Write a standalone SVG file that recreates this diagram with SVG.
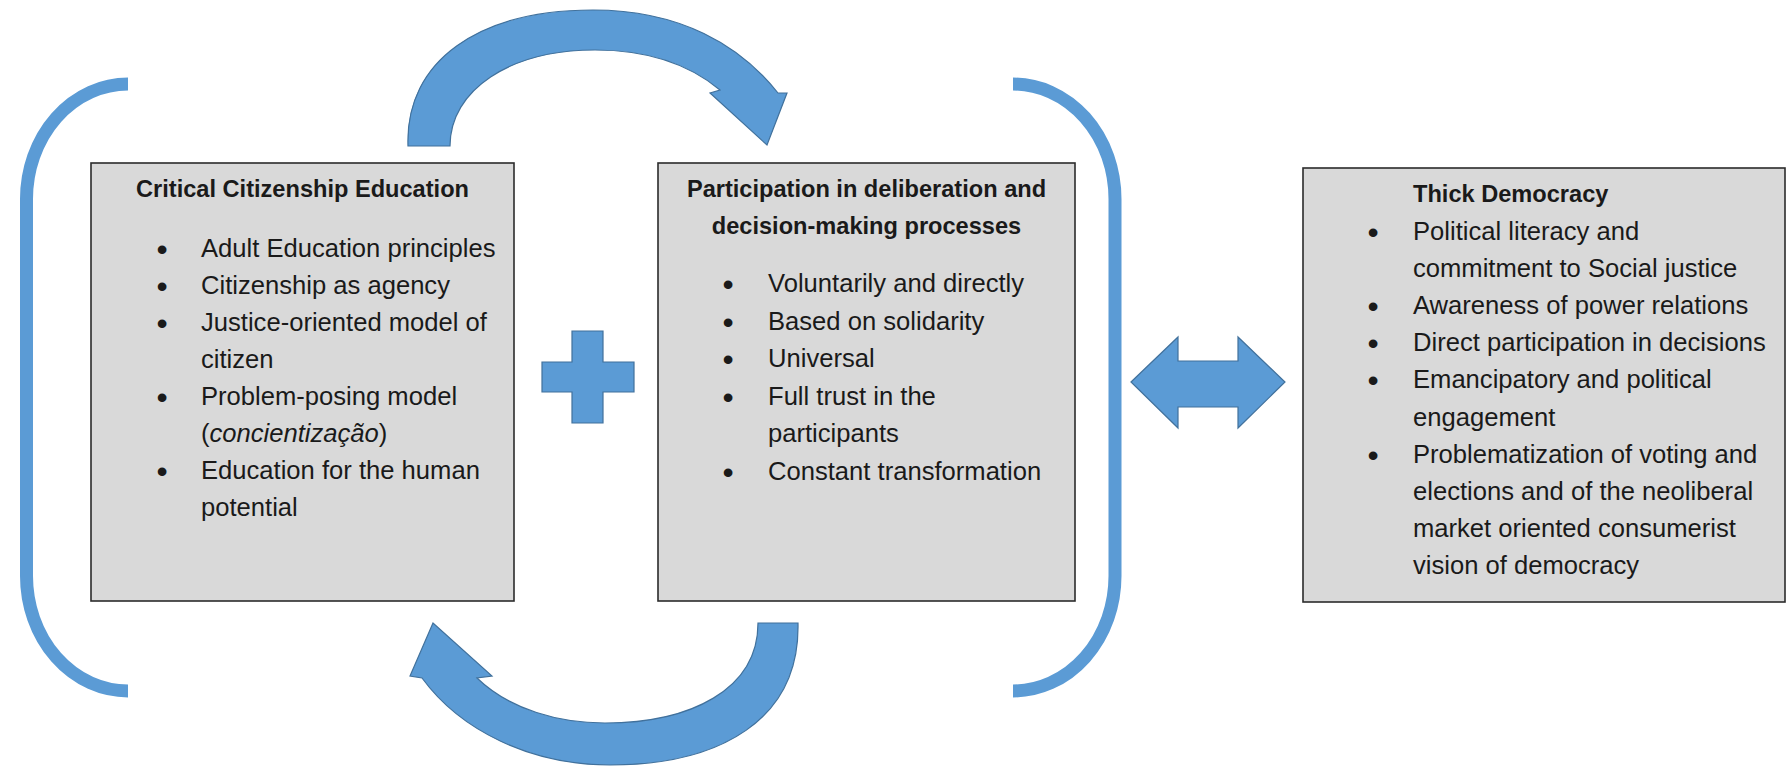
<svg xmlns="http://www.w3.org/2000/svg" width="1787" height="766" viewBox="0 0 1787 766">
<style>
.box{fill:#d9d9d9;stroke:#2b2b2b;stroke-width:1.6}
.t{font-family:"Liberation Sans",Arial,sans-serif;font-size:25.6px;fill:#1a1a1a}
.h{font-family:"Liberation Sans",Arial,sans-serif;font-size:23.6px;font-weight:bold;fill:#1a1a1a}
.b{font-family:"Liberation Sans",Arial,sans-serif;font-size:32px;fill:#1a1a1a;text-anchor:middle}
.shape{fill:#5b9bd5;stroke:#41719c;stroke-width:1.2;stroke-linejoin:miter}
.brk{fill:none;stroke:#5b9bd5;stroke-width:13}
</style>
<rect width="1787" height="766" fill="#ffffff"/>
<g id="connectors">
  <path class="brk" d="M128,84 A101.5,115 0 0 0 26.5,199 L26.5,576 A101.5,115 0 0 0 128,691"/>
  <path class="brk" d="M1013,84 A102,115 0 0 1 1115,199 L1115,576 A102,115 0 0 1 1013,691"/>
  <path class="shape" d="M408,146 C405,60 480,10 593,10 C680,10 740,45 778,93 L787,93 L767,145 L710,93 L720,90 C690,65 650,50 595,50 C510,50 450,90 450,146 Z"/>
  <path class="shape" d="M798,623 C800,720 720,765 610,765 C530,765 460,730 422,678 L410,676 L433,623 L492,676 L477,678 C510,710 560,723 605,723 C690,723 758,690 758,623 Z"/>
  <path class="shape" d="M572,331 L603,331 L603,362 L634,362 L634,392 L603,392 L603,423 L572,423 L572,392 L542,392 L542,362 L572,362 Z"/>
  <path class="shape" d="M1131,382 L1178,337 L1178,361 L1238,361 L1238,337 L1285,382 L1238,428 L1238,407 L1178,407 L1178,428 Z"/>
</g>
<g id="box-critical-citizenship">
  <rect class="box" x="91" y="163" width="423" height="438"/>
  <text class="h" x="302.5" y="197" text-anchor="middle">Critical Citizenship Education</text>
  <text class="b" x="162" y="260">•</text><text class="t" x="201" y="257">Adult Education principles</text>
  <text class="b" x="162" y="297">•</text><text class="t" x="201" y="294">Citizenship as agency</text>
  <text class="b" x="162" y="334">•</text><text class="t" x="201" y="331">Justice-oriented model of</text>
  <text class="t" x="201" y="368">citizen</text>
  <text class="b" x="162" y="408">•</text><text class="t" x="201" y="405">Problem-posing model</text>
  <text class="t" x="201" y="442">(<tspan font-style="italic">concientização</tspan>)</text>
  <text class="b" x="162" y="482">•</text><text class="t" x="201" y="479">Education for the human</text>
  <text class="t" x="201" y="516">potential</text>
</g>
<g id="box-participation">
  <rect class="box" x="658" y="163" width="417" height="438"/>
  <text class="h" x="866.5" y="197" text-anchor="middle">Participation in deliberation and</text>
  <text class="h" x="866.5" y="234" text-anchor="middle">decision-making processes</text>
  <text class="b" x="728" y="295">•</text><text class="t" x="768" y="292">Voluntarily and directly</text>
  <text class="b" x="728" y="332.5">•</text><text class="t" x="768" y="329.5">Based on solidarity</text>
  <text class="b" x="728" y="370">•</text><text class="t" x="768" y="367">Universal</text>
  <text class="b" x="728" y="407.5">•</text><text class="t" x="768" y="404.5">Full trust in the</text>
  <text class="t" x="768" y="442">participants</text>
  <text class="b" x="728" y="482.5">•</text><text class="t" x="768" y="479.5">Constant transformation</text>
</g>
<g id="box-thick-democracy">
  <rect class="box" x="1303" y="168" width="482" height="434"/>
  <text class="h" x="1413" y="202">Thick Democracy</text>
  <text class="b" x="1373" y="242.5">•</text><text class="t" x="1413" y="239.5">Political literacy and</text>
  <text class="t" x="1413" y="276.7">commitment to Social justice</text>
  <text class="b" x="1373" y="316.9">•</text><text class="t" x="1413" y="313.9">Awareness of power relations</text>
  <text class="b" x="1373" y="354.1">•</text><text class="t" x="1413" y="351.1">Direct participation in decisions</text>
  <text class="b" x="1373" y="391.3">•</text><text class="t" x="1413" y="388.3">Emancipatory and political</text>
  <text class="t" x="1413" y="425.5">engagement</text>
  <text class="b" x="1373" y="465.7">•</text><text class="t" x="1413" y="462.7">Problematization of voting and</text>
  <text class="t" x="1413" y="499.9">elections and of the neoliberal</text>
  <text class="t" x="1413" y="537.1">market oriented consumerist</text>
  <text class="t" x="1413" y="574.3">vision of democracy</text>
</g>
</svg>
